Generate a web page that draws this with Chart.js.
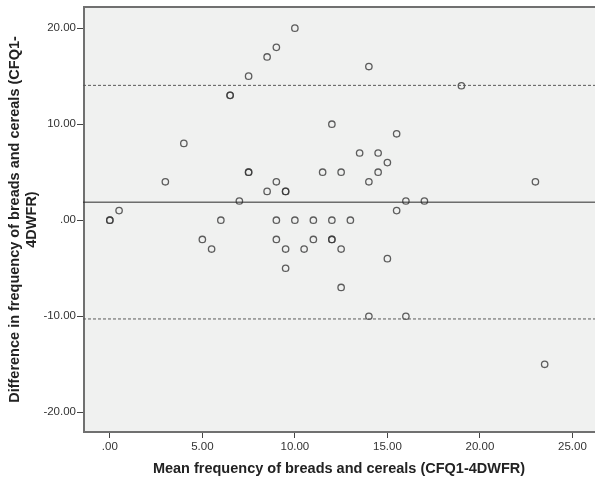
<!DOCTYPE html>
<html>
<head>
<meta charset="utf-8">
<script src="https://cdn.jsdelivr.net/npm/chart.js@4.4.0/dist/chart.umd.min.js"></script>
<style>
  body { margin: 0; background: #ffffff; }
  #wrap { width: 595px; height: 485px; }
</style>
</head>
<body>
<div id="wrap"><canvas id="plot1" width="595" height="485"></canvas></div>
<script>
// Bland-Altman values (duplicates kept: they show as darker rings)
const meanFreq = [0, 0, 0.5, 3, 4, 5, 5.5, 6, 6.5, 6.5, 7, 7.5, 7.5, 7.5, 8.5, 8.5, 9, 9, 9, 9,
    9.5, 9.5, 9.5, 9.5, 10, 10, 10.5, 11, 11, 11.5, 12, 12, 12, 12, 12.5, 12.5, 12.5, 13, 13.5,
    14, 14, 14, 14.5, 14.5, 15, 15, 15.5, 15.5, 16, 16, 17, 19, 23, 23.5];
const diffFreq = [0, 0, 1, 4, 8, -2, -3, 0, 13, 13, 2, 15, 5, 5, 17, 3, 18, 4, 0, -2,
    3, 3, -3, -5, 20, 0, -3, 0, -2, 5, 10, 0, -2, -2, 5, -3, -7, 0, 7,
    16, 4, -10, 7, 5, 6, -4, 9, 1, 2, -10, 2, 14, 4, -15];

const meanDiff = 1.88;
const upperLimit = 14.04;
const lowerLimit = -10.28;

const xTicks = [0, 5, 10, 15, 20, 25];
const yTicks = [-20, -10, 0, 10, 20];
const xRange = [-1.45, 26.22];
const yRange = [-22.05, 22.2];

const xTitle = "Mean frequency of breads and cereals (CFQ1-4DWFR)";
const yTitle = ["Difference in frequency of breads and cereals (CFQ1-", "4DWFR)"];

function fmt(v) {
    if (v === 0) return ".00";
    return v.toFixed(2);
}

function hLine(y, dash, color) {
    return {
        type: 'line',
        data: [{x: xRange[0], y: y}, {x: xRange[1], y: y}],
        borderColor: color,
        borderWidth: 1,
        borderDash: dash,
        pointRadius: 0,
        fill: false
    };
}

const frame = {
    id: 'frame',
    beforeDraw(chart) {
        const c = chart.ctx, a = chart.chartArea;
        c.save();
        c.fillStyle = '#ffffff';
        c.fillRect(0, 0, chart.width, chart.height);
        c.fillStyle = '#f0f1f0';
        c.fillRect(a.left, a.top, a.right - a.left, a.bottom - a.top);
        c.restore();
    },
    beforeDatasetsDraw(chart) {
        const c = chart.ctx, a = chart.chartArea;
        c.save();
        c.strokeStyle = '#707070';
        c.lineWidth = 2;
        c.beginPath();
        c.moveTo(a.right + 2, a.top);
        c.lineTo(a.left + 1, a.top);
        c.lineTo(a.left + 1, a.bottom);
        c.lineTo(a.right + 2, a.bottom);
        c.stroke();
        c.restore();
    },
    afterDraw(chart) {
        const c = chart.ctx, a = chart.chartArea;
        c.save();
        c.fillStyle = '#222222';
        c.font = 'bold 14.5px "Liberation Sans", Arial, sans-serif';
        c.textAlign = 'center';
        c.textBaseline = 'middle';
        c.fillText(xTitle, (a.left + a.right) / 2, 469);
        c.translate(0, (a.top + a.bottom) / 2);
        c.rotate(-Math.PI / 2);
        c.fillText(yTitle[0], 0, 15);
        c.fillText(yTitle[1], 0, 32);
        c.restore();
    }
};

var ctx = document.getElementById("plot1").getContext("2d");
var points = meanFreq.map((m, i) => ({x: m, y: diffFreq[i]}));

var baChart = new Chart(ctx, {
    type: 'scatter',
    data: {
        datasets: [
            hLine(upperLimit, [3, 2], '#5a5a5a'),
            hLine(lowerLimit, [3, 2], '#5a5a5a'),
            hLine(meanDiff, [], '#2a2a2a'),
            {
                type: 'scatter',
                data: points,
                pointStyle: 'circle',
                pointRadius: 3.2,
                pointBorderWidth: 1.3,
                pointBorderColor: 'rgba(55,55,55,0.8)',
                pointBackgroundColor: 'rgba(0,0,0,0)'
            }
        ]
    },
    options: {
        responsive: false,
        animation: false,
        devicePixelRatio: 1,
        layout: {autoPadding: false, padding: {top: 7, right: 0, left: 0, bottom: 0}},
        plugins: {legend: {display: false}, tooltip: {enabled: false}},
        scales: {
            x: {
                type: 'linear',
                min: xRange[0],
                max: xRange[1],
                afterBuildTicks: s => { s.ticks = xTicks.map(v => ({value: v})); },
                afterFit: s => { s.height = 53; s.paddingLeft = 0; s.paddingRight = 0; },
                border: {display: false},
                grid: {drawOnChartArea: false, drawTicks: true, tickLength: 6, color: '#444444', lineWidth: 1},
                ticks: {
                    callback: v => fmt(v),
                    color: '#333333',
                    padding: 2,
                    maxRotation: 0,
                    font: {family: '"Liberation Sans", Arial, sans-serif', size: 11.5}
                }
            },
            y: {
                type: 'linear',
                min: yRange[0],
                max: yRange[1],
                afterBuildTicks: s => { s.ticks = yTicks.map(v => ({value: v})); },
                afterFit: s => { s.width = 83; s.paddingTop = 0; s.paddingBottom = 0; },
                border: {display: false},
                grid: {drawOnChartArea: false, drawTicks: true, tickLength: 6, color: '#444444', lineWidth: 1},
                ticks: {
                    callback: v => fmt(v),
                    color: '#333333',
                    padding: 1,
                    font: {family: '"Liberation Sans", Arial, sans-serif', size: 11.5}
                }
            }
        }
    },
    plugins: [frame]
});
</script>
</body>
</html>
